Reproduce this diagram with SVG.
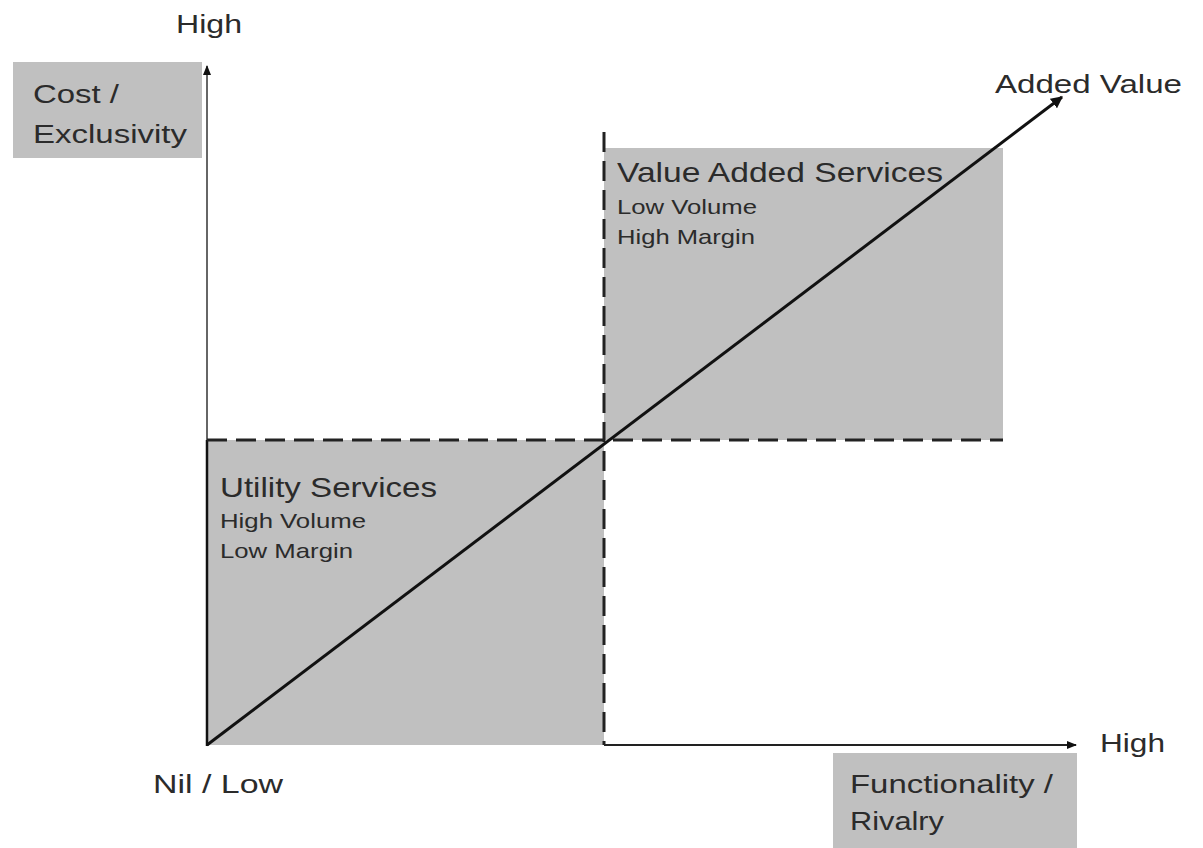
<svg xmlns="http://www.w3.org/2000/svg" width="1203" height="848" viewBox="0 0 1203 848">
<style>
  .t{font-family:"Liberation Sans",Arial,sans-serif;fill:#2b2b2b}
  .big{font-size:28px}
  .med{font-size:26px}
  .sm{font-size:21px}
  .box{fill:#c0c0c0}
  .dash{stroke:#222;stroke-width:3;stroke-dasharray:20 9;fill:none}
</style>
<defs>
  <marker id="ah" viewBox="0 0 10 10" refX="9" refY="5" markerWidth="4" markerHeight="4" orient="auto" markerUnits="strokeWidth">
    <path d="M0,0 L10,5 L0,10 z" fill="#111"/>
  </marker>
  <marker id="ahs" viewBox="0 0 10 10" refX="9" refY="5" markerWidth="5" markerHeight="5" orient="auto" markerUnits="strokeWidth">
    <path d="M0,1 L10,5 L0,9 z" fill="#111"/>
  </marker>
</defs>
<rect width="1203" height="848" fill="#fff"/>

<g id="quadrant-utility">
  <rect class="box" x="207" y="440" width="397" height="305"/>
  <text class="t big" x="220" y="497" textLength="217" lengthAdjust="spacingAndGlyphs">Utility Services</text>
  <text class="t sm" x="220" y="528" textLength="146" lengthAdjust="spacingAndGlyphs">High Volume</text>
  <text class="t sm" x="220" y="558" textLength="133" lengthAdjust="spacingAndGlyphs">Low Margin</text>
</g>

<g id="quadrant-value-added">
  <rect class="box" x="604" y="148" width="399" height="292"/>
  <text class="t big" x="617" y="182" textLength="326" lengthAdjust="spacingAndGlyphs">Value Added Services</text>
  <text class="t sm" x="617" y="214" textLength="140" lengthAdjust="spacingAndGlyphs">Low Volume</text>
  <text class="t sm" x="617" y="244" textLength="138" lengthAdjust="spacingAndGlyphs">High Margin</text>
</g>

<g id="label-cost">
  <rect class="box" x="13" y="62" width="189" height="96"/>
  <text class="t med" x="33" y="103" textLength="86" lengthAdjust="spacingAndGlyphs">Cost /</text>
  <text class="t med" x="33" y="143" textLength="154" lengthAdjust="spacingAndGlyphs">Exclusivity</text>
</g>

<g id="label-functionality">
  <rect class="box" x="833" y="753" width="244" height="95"/>
  <text class="t med" x="850" y="793" textLength="203" lengthAdjust="spacingAndGlyphs">Functionality /</text>
  <text class="t med" x="850" y="830" textLength="94" lengthAdjust="spacingAndGlyphs">Rivalry</text>
</g>

<g id="axis-labels">
  <text class="t med" x="176" y="33" textLength="66" lengthAdjust="spacingAndGlyphs">High</text>
  <text class="t med" x="1100" y="752" textLength="65" lengthAdjust="spacingAndGlyphs">High</text>
  <text class="t med" x="153" y="793" textLength="130" lengthAdjust="spacingAndGlyphs">Nil / Low</text>
  <text class="t med" x="995" y="93" textLength="187" lengthAdjust="spacingAndGlyphs">Added Value</text>
</g>

<g id="connectors">
  <line x1="207" y1="440" x2="207" y2="66" stroke="#666" stroke-width="2" marker-end="url(#ahs)"/>
  <line x1="207" y1="440" x2="207" y2="746" stroke="#111" stroke-width="2.5"/>
  <line x1="604" y1="745" x2="1076" y2="745" stroke="#222" stroke-width="2" marker-end="url(#ahs)"/>
  <line class="dash" x1="207" y1="440" x2="1003" y2="440"/>
  <line class="dash" x1="604" y1="132" x2="604" y2="745"/>
  <line x1="207" y1="745" x2="1062" y2="97" stroke="#111" stroke-width="3" marker-end="url(#ah)"/>
</g>
</svg>
